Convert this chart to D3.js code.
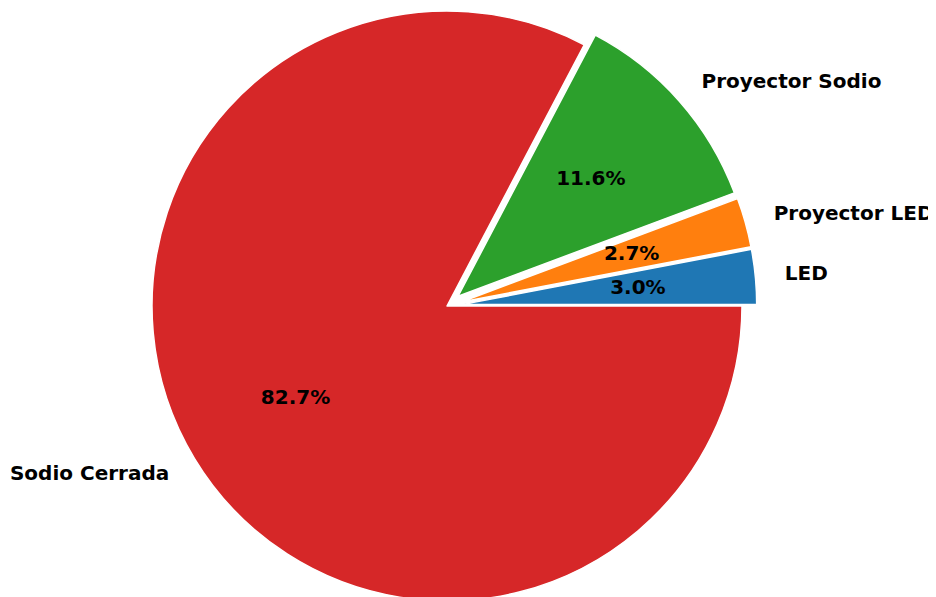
<!DOCTYPE html>
<html>
<head>
<meta charset="utf-8">
<script src="https://cdn.jsdelivr.net/npm/d3@7"></script>
<style>
  body { margin: 0; background: #fff; }
  text { font-family: "DejaVu Sans", sans-serif; font-weight: bold; font-size: 20px; fill: #000; }
</style>
</head>
<body>
<div id="root"></div>
<script>
const WIDTH = 936;
const HEIGHT = 597;
const CLIP_WIDTH = 928; // the original image cuts off the last letter
const CENTER = {x: 447, y: 306};
const RADIUS = 295;
const EXPLODE = 0.05;

// slices, counter-clockwise from 3 o'clock like the original
const categories = ["LED", "Proyector LED", "Proyector Sodio", "Sodio Cerrada"];
const values = [3.0, 2.7, 11.6, 82.7];
const explode = [1, 1, 1, 0];
const colors = ["#1f77b4", "#ff7f0e", "#2ca02c", "#d62728"];

const data = categories.map((c, i) => ({name: c, value: values[i], explode: explode[i], color: colors[i]}));

const svg = d3.select("#root")
    .append("svg")
    .attr("width", WIDTH)
    .attr("height", HEIGHT);

svg.append("clipPath")
    .attr("id", "figClip")
    .append("rect")
    .attr("width", CLIP_WIDTH)
    .attr("height", HEIGHT);

const pie = d3.pie()
    .value(d => d.value)
    .sort(null)
    .startAngle(Math.PI / 2)
    .endAngle(Math.PI / 2 - 2 * Math.PI);

const arc = d3.arc()
    .innerRadius(0)
    .outerRadius(RADIUS);

const total = d3.sum(values);
const arcs = pie(data);

// unit vector towards the middle of a slice
function dir(d) {
    const m = (d.startAngle + d.endAngle) / 2;
    return [Math.sin(m), -Math.cos(m)];
}

function offset(d) {
    const [ux, uy] = dir(d);
    const k = d.data.explode * EXPLODE * RADIUS;
    return [CENTER.x + ux * k, CENTER.y + uy * k];
}

const slices = svg.append("g")
    .attr("clip-path", "url(#figClip)")
    .selectAll("g")
    .data(arcs)
    .join("g")
    .attr("transform", d => `translate(${offset(d)})`);

slices.append("path")
    .attr("d", arc)
    .attr("fill", d => d.data.color)
    .attr("stroke", "#fff")
    .attr("stroke-width", 1.5)
    .attr("stroke-linejoin", "round");

// percentages at 0.6 r
slices.append("text")
    .attr("x", d => dir(d)[0] * RADIUS * 0.6)
    .attr("y", d => dir(d)[1] * RADIUS * 0.6)
    .attr("dy", "-0.05em")
    .attr("text-anchor", "middle")
    .attr("dominant-baseline", "central")
    .text(d => (d.data.value / total * 100).toFixed(1) + "%");

// category labels at 1.1 r
slices.append("text")
    .attr("x", d => dir(d)[0] * RADIUS * 1.1)
    .attr("y", d => dir(d)[1] * RADIUS * 1.1)
    .attr("dy", "-0.05em")
    .attr("text-anchor", d => dir(d)[0] < 0 ? "end" : "start")
    .attr("dominant-baseline", "central")
    .text(d => d.data.name);
</script>
</body>
</html>
